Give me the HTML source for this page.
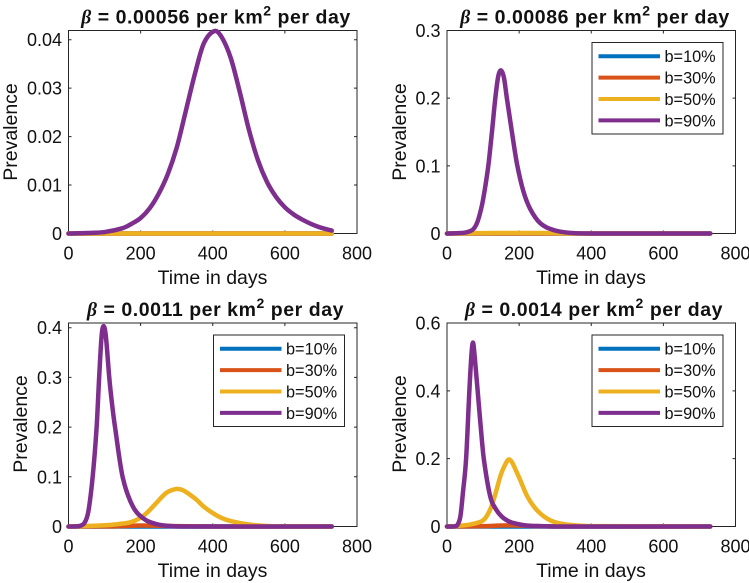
<!DOCTYPE html>
<html>
<head>
<meta charset="utf-8">
<title>Prevalence over time for four values of beta</title>
<style>
html,body{margin:0;padding:0;background:#fff;width:749px;height:583px;overflow:hidden}
svg{display:block;filter:blur(0.3px)}
text{font-family:"Liberation Sans",sans-serif;fill:#111}
.title{font-size:19.5px;font-weight:bold;text-anchor:middle;letter-spacing:0.55px}
.label{font-size:19.5px;text-anchor:middle}
.tick{font-size:18px}
.leg{font-size:16.3px}
.frame{fill:#fff;stroke:#262626;stroke-width:1}
.legbox{fill:#fff;stroke:#262626;stroke-width:1}
</style>
</head>
<body>
<svg id="fig" width="749" height="583" viewBox="0 0 749 583" xmlns="http://www.w3.org/2000/svg">
  <g id="p1">
    <text class="title" x="216" y="23.5"><tspan font-family="Liberation Serif" font-style="italic">β</tspan> = 0.00056 per km<tspan dy="-8" font-size="14">2</tspan><tspan dy="8"> per day</tspan></text>
    <text class="label" x="212.5" y="284">Time in days</text>
    <text class="label" transform="translate(17,132) rotate(-90)">Prevalence</text>
  </g>
  <g id="p2">
    <text class="title" x="595" y="23.5"><tspan font-family="Liberation Serif" font-style="italic">β</tspan> = 0.00086 per km<tspan dy="-8" font-size="14">2</tspan><tspan dy="8"> per day</tspan></text>
    <text class="label" x="591" y="284">Time in days</text>
    <text class="label" transform="translate(406,132) rotate(-90)">Prevalence</text>
  </g>
  <g id="p3">
    <text class="title" x="215.5" y="316"><tspan font-family="Liberation Serif" font-style="italic">β</tspan> = 0.0011 per km<tspan dy="-8" font-size="14">2</tspan><tspan dy="8"> per day</tspan></text>
    <text class="label" x="212.5" y="577">Time in days</text>
    <text class="label" transform="translate(27,424) rotate(-90)">Prevalence</text>
  </g>
  <g id="p4">
    <text class="title" x="594" y="316"><tspan font-family="Liberation Serif" font-style="italic">β</tspan> = 0.0014 per km<tspan dy="-8" font-size="14">2</tspan><tspan dy="8"> per day</tspan></text>
    <text class="label" x="591" y="577">Time in days</text>
    <text class="label" transform="translate(406,424) rotate(-90)">Prevalence</text>
  </g>
</svg>
<script>
// ---- data ----
const xTicks = [0, 200, 400, 600, 800];
const seriesNames = ['b=10%', 'b=30%', 'b=50%', 'b=90%'];
const seriesColors = ['#0072BD', '#D95319', '#EDB120', '#7E2F8E'];

const p1YTicks = [0, 0.01, 0.02, 0.03, 0.04];
const p1YLabels = ['0', '0.01', '0.02', '0.03', '0.04'];
const p1YMax = 0.0419;
const p1FlatDays = [0, 730];
const p1FlatVals = [0, 0];
const p1PurpleDays = [0,50,100,150,175,200,225,250,275,300,325,350,375,405,425,450,475,500,525,550,575,600,625,650,675,700,730];
const p1PurpleVals = [0,.0001,.0003,.0011,.002,.0032,.0052,.0082,.0122,.0177,.0252,.0328,.0392,.0418,.0405,.0362,.0292,.0215,.0152,.0107,.0076,.0054,.0039,.0028,.0019,.0012,.0006];

const p2YTicks = [0, 0.1, 0.2, 0.3];
const p2YLabels = ['0', '0.1', '0.2', '0.3'];
const p2YMax = 0.3;
const p2FlatDays = [0, 730];
const p2FlatVals = [0, 0];
const p2YellowDays = [0,60,100,150,200,250,300,340,400,730];
const p2YellowVals = [0,.0003,.0006,.0007,.0007,.0007,.0005,.0001,0,0];
const p2PurpleDays = [0,46,62,74,85,97,106,115,125,134,142,150,158,166,180,194,212,231,259,296,340,400,730];
const p2PurpleVals = [0,.001,.003,.007,.018,.042,.069,.102,.152,.2,.232,.241,.23,.2,.15,.103,.062,.036,.015,.005,.001,0,0];

const p3YTicks = [0, 0.1, 0.2, 0.3, 0.4];
const p3YLabels = ['0', '0.1', '0.2', '0.3', '0.4'];
const p3YMax = 0.4095;
const p3FlatDays = [0, 730];
const p3FlatVals = [0, 0];
const p3OrangeDays = [0,100,150,200,250,300,400,730];
const p3OrangeVals = [0,.0002,.0008,.002,.0015,.0007,.0001,0];
const p3YellowDays = [0,50,113,140,168,185,205,225,243,270,290,305,320,353,375,400,425,450,500,550,600,730];
const p3YellowVals = [0,.001,.003,.005,.008,.012,.02,.033,.047,.067,.074,.0755,.072,.055,.04,.027,.017,.011,.004,.001,.0003,0];
const p3PurpleDays = [0,25,35,45,55,67,78,85,92,98,104,113,121,129,150,178,210,243,280,330,730];
const p3PurpleVals = [0,.0005,.002,.008,.03,.1,.2,.3,.385,.403,.38,.3,.245,.2,.1,.041,.015,.005,.001,0,0];

const p4YTicks = [0, 0.2, 0.4, 0.6];
const p4YLabels = ['0', '0.2', '0.4', '0.6'];
const p4YMax = 0.6;
const p4FlatDays = [0, 730];
const p4FlatVals = [0, 0];
const p4OrangeDays = [0,100,150,200,250,300,730];
const p4OrangeVals = [0,.001,.003,.003,.001,.0002,0];
const p4YellowDays = [0,30,60,88,100,111,122,132,150,165,172,180,190,203,222,240,259,278,296,323,360,400,730];
const p4YellowVals = [0,.002,.005,.012,.018,.032,.056,.088,.155,.19,.198,.19,.168,.137,.09,.06,.038,.023,.014,.007,.003,.001,0];
const p4PurpleDays = [0,20,28,37,44,53,62,68,72,76,85,93,102,120,135,152,170,189,220,260,300,730];
const p4PurpleVals = [0,.0005,.003,.029,.098,.2,.4,.51,.542,.51,.4,.3,.2,.088,.052,.029,.016,.009,.003,.001,0,0];

// ---- panel descriptions ----
const panels = [
  {id:'p1', box:[68.5,30.5,357,233.5], yTicks:p1YTicks, yLabels:p1YLabels, yMax:p1YMax, legend:false,
   lines:[[p1FlatDays,p1FlatVals],[p1FlatDays,p1FlatVals],[p1FlatDays,p1FlatVals],[p1PurpleDays,p1PurpleVals]]},
  {id:'p2', box:[447,30.5,735.5,233.5], yTicks:p2YTicks, yLabels:p2YLabels, yMax:p2YMax, legend:true,
   lines:[[p2FlatDays,p2FlatVals],[p2FlatDays,p2FlatVals],[p2YellowDays,p2YellowVals],[p2PurpleDays,p2PurpleVals]]},
  {id:'p3', box:[68.5,323,357,526.5], yTicks:p3YTicks, yLabels:p3YLabels, yMax:p3YMax, legend:true,
   lines:[[p3FlatDays,p3FlatVals],[p3OrangeDays,p3OrangeVals],[p3YellowDays,p3YellowVals],[p3PurpleDays,p3PurpleVals]]},
  {id:'p4', box:[447,323,735.5,526.5], yTicks:p4YTicks, yLabels:p4YLabels, yMax:p4YMax, legend:true,
   lines:[[p4FlatDays,p4FlatVals],[p4OrangeDays,p4OrangeVals],[p4YellowDays,p4YellowVals],[p4PurpleDays,p4PurpleVals]]}
];

const NS = 'http://www.w3.org/2000/svg';
function mk(tag, attrs, parent) {
  const el = document.createElementNS(NS, tag);
  for (const k in attrs) el.setAttribute(k, attrs[k]);
  parent.appendChild(el);
  return el;
}
// Hermite spline with non-uniform tangents, drawn through the scaled points
function smoothPath(pts, bottom) {
  const n = pts.length;
  const m = pts.map(function (p, i) {
    const a = pts[Math.max(i - 1, 0)], b = pts[Math.min(i + 1, n - 1)];
    return (b[1] - a[1]) / (b[0] - a[0]);
  });
  let d = 'M' + pts[0][0].toFixed(2) + ' ' + pts[0][1].toFixed(2);
  for (let i = 0; i < n - 1; i++) {
    const p1 = pts[i], p2 = pts[i + 1], h = (p2[0] - p1[0]) / 3;
    d += 'C' + (p1[0] + h).toFixed(2) + ' ' + Math.min(p1[1] + m[i] * h, bottom).toFixed(2) + ' ' +
         (p2[0] - h).toFixed(2) + ' ' + Math.min(p2[1] - m[i + 1] * h, bottom).toFixed(2) + ' ' +
         p2[0].toFixed(2) + ' ' + p2[1].toFixed(2);
  }
  return d;
}

panels.forEach(function (p) {
  const g = document.getElementById(p.id);
  const L = p.box[0], T = p.box[1], R = p.box[2], B = p.box[3];
  const xs = function (v) { return L + (v / 800) * (R - L); };
  const ys = function (v) { return B - (v / p.yMax) * (B - T); };

  const frame = mk('rect', {x: L, y: T, width: R - L, height: B - T, class: 'frame'}, g);
  
  

  xTicks.forEach(function (t) {
    const x = xs(t);
    const tk = mk('path', {d: 'M' + x + ' ' + B + 'V' + (B - 3) + 'M' + x + ' ' + T + 'V' + (T + 3), stroke: '#262626', fill: 'none'}, g);
    
    
    const lb = mk('text', {x: x, y: B + 26, class: 'tick', 'text-anchor': 'middle'}, g);
    lb.textContent = String(t);
    
    
  });
  p.yTicks.forEach(function (t, i) {
    const y = ys(t);
    const tk = mk('path', {d: 'M' + L + ' ' + y + 'H' + (L + 3) + 'M' + R + ' ' + y + 'H' + (R - 3), stroke: '#262626', fill: 'none'}, g);
    
    
    const lb = mk('text', {x: L - 6.5, y: y + 6.5, class: 'tick', 'text-anchor': 'end'}, g);
    lb.textContent = p.yLabels[i];
    
    
  });

  p.lines.forEach(function (s, i) {
    const pts = s[0].map(function (d, j) { return [xs(d), ys(s[1][j])]; });
    const line = mk('path', {d: smoothPath(pts, B), fill: 'none', stroke: seriesColors[i], 'stroke-width': 4.5, 'stroke-linejoin': 'round', 'stroke-linecap': 'round'}, g);
    
    
  });

  if (p.legend) {
    const lg = mk('g', {}, g);
    
    
    const lx = L + 145, ly = T + 12;
    mk('rect', {x: lx, y: ly, width: 131, height: 91.5, class: 'legbox'}, lg);
    seriesNames.forEach(function (n, i) {
      const ey = ly + 13.7 + i * 21.4;
      const e = mk('g', {}, lg);
      
      
      mk('line', {x1: lx + 6.5, x2: lx + 68, y1: ey, y2: ey, stroke: seriesColors[i], 'stroke-width': 4}, e);
      const t = mk('text', {x: lx + 72.5, y: ey + 6, class: 'leg'}, e);
      t.textContent = n;
    });
  }
});
</script>
</body>
</html>
